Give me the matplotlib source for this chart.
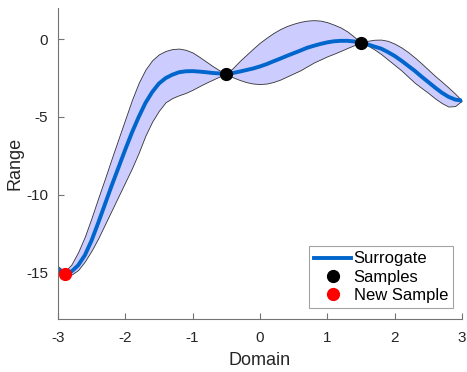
import numpy as np
import matplotlib
matplotlib.use("Agg")
import matplotlib.pyplot as plt

plt.rcParams['font.family'] = ['Liberation Sans', 'DejaVu Sans']
plt.rcParams['axes.unicode_minus'] = False

# values
domain = np.round(np.arange(-3.0, 3.01, 0.1), 1)
surrogate = [-14.8, -15.05, -14.95, -14.55, -13.9, -12.95, -11.8, -10.6, -9.4, -8.25,
             -7.1, -6.0, -5.0, -4.1, -3.4, -2.85, -2.5, -2.28, -2.12, -2.06,
             -2.05, -2.08, -2.12, -2.17, -2.2, -2.22, -2.17, -2.08, -1.98, -1.88,
             -1.75, -1.6, -1.42, -1.25, -1.07, -0.9, -0.73, -0.55, -0.42, -0.3,
             -0.2, -0.13, -0.1, -0.1, -0.14, -0.22, -0.33, -0.47, -0.6, -0.82,
             -1.07, -1.37, -1.7, -2.03, -2.4, -2.75, -3.1, -3.43, -3.7, -3.88,
             -3.95]
upper = [-14.6, -14.95, -14.5, -13.7, -12.7, -11.49, -10.2, -8.95, -7.66, -6.4,
         -5.15, -3.9, -2.8, -1.95, -1.35, -0.97, -0.75, -0.63, -0.6, -0.68,
         -0.85, -1.13, -1.43, -1.73, -2.0, -2.22, -1.85, -1.4, -1.0, -0.6,
         -0.22, 0.1, 0.4, 0.65, 0.85, 1.0, 1.12, 1.2, 1.23, 1.2,
         1.1, 0.94, 0.76, 0.5, 0.16, -0.22, -0.1, -0.03, -0.02, -0.1,
         -0.28, -0.52, -0.82, -1.17, -1.55, -1.95, -2.35, -2.72, -3.1, -3.5,
         -3.95]
lower = [-15.0, -15.15, -15.15, -14.85, -14.3, -13.6, -12.8, -11.9, -11.0, -10.1,
         -9.2, -8.3, -7.3, -6.2, -5.3, -4.6, -4.05, -3.78, -3.6, -3.45,
         -3.25, -3.02, -2.8, -2.6, -2.4, -2.22, -2.45, -2.62, -2.76, -2.85,
         -2.88, -2.85, -2.75, -2.6, -2.4, -2.2, -2.0, -1.75, -1.5, -1.3,
         -1.1, -0.93, -0.75, -0.56, -0.38, -0.22, -0.4, -0.65, -0.95, -1.3,
         -1.65, -2.0, -2.4, -2.8, -3.13, -3.45, -3.8, -4.1, -4.33, -4.3,
         -3.95]
samples_x = [-0.5, 1.5]
samples_y = [-2.22, -0.22]
new_x = [-2.9]
new_y = [-15.1]

fig = plt.figure(figsize=(4.67, 3.72), dpi=100)
ax = fig.add_axes([0.124, 0.1425, 0.865, 0.8355])

ax.fill_between(domain, lower, upper, facecolor=(0.8, 0.8, 1.0),
                edgecolor=(0.2, 0.2, 0.2), linewidth=0.6)
ax.plot(domain, surrogate, color='#0066cc', linewidth=2.8, label='Surrogate')
ax.plot(samples_x, samples_y, 'o', color='black', markersize=8.5, label='Samples')
ax.plot(new_x, new_y, 'o', color='red', markersize=8.5, label='New Sample')

ax.set_xlim(-3, 3)
ax.set_ylim(-18, 2)
ax.set_xticks([-3, -2, -1, 0, 1, 2, 3])
ax.set_yticks([-15, -10, -5, 0])
ax.set_xlabel('Domain', fontsize=13, color=(0.15, 0.15, 0.15), labelpad=5)
ax.set_ylabel('Range', fontsize=13, color=(0.15, 0.15, 0.15), labelpad=2)

for side in ['top', 'right']:
    ax.spines[side].set_visible(False)
for side in ['left', 'bottom']:
    ax.spines[side].set_color((0.45, 0.45, 0.45))
    ax.spines[side].set_linewidth(0.8)
ax.tick_params(direction='in', length=4, width=0.8, color=(0.45, 0.45, 0.45),
               labelsize=11, labelcolor=(0.15, 0.15, 0.15))
ax.tick_params(axis='x', pad=9)
ax.tick_params(axis='y', pad=7)

leg = ax.legend(loc='lower right', fontsize=12, frameon=True, fancybox=False,
                borderpad=0.3, handlelength=2.2, handletextpad=0.15, labelspacing=0.2,
                borderaxespad=0.0, bbox_to_anchor=(0.978, 0.035))
leg.get_frame().set_edgecolor((0.55, 0.55, 0.55))
leg.get_frame().set_linewidth(0.8)

fig.savefig('out.png', dpi=100)
